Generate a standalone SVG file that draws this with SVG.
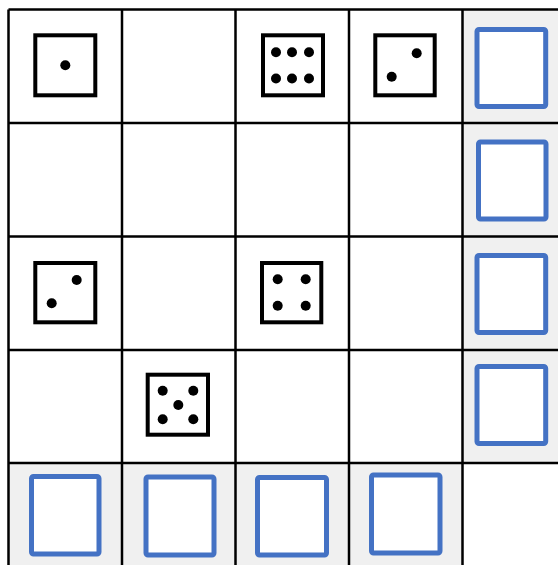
<svg xmlns="http://www.w3.org/2000/svg" width="558" height="565" viewBox="0 0 558 565">
<style>
.shade{fill:#f0f0f0;stroke:none}
.grid{stroke:#000;stroke-width:2.5;fill:none}
.die{fill:#fff;stroke:#000;stroke-width:4}
.pip{fill:#000}
.slot{fill:#fff;stroke:#4472c4;stroke-width:5;}
</style>
<rect width="558" height="565" fill="#fff"/>
<g id="shading">
<rect class="shade" x="462.5" y="9.5" width="96" height="453.5"/>
<rect class="shade" x="8.5" y="463" width="454" height="102"/>
</g>
<g id="grid">
<path class="grid" d="M8.5 9.5H558M8.5 123H558M8.5 236.5H558M8.5 350H558M8.5 463H558M8.5 9.5V565M122 9.5V565M235.5 9.5V565M349 9.5V565M462.5 9.5V565"/>
</g>
<g id="die-r0c0"><rect class="die" x="35.3" y="35.3" width="60" height="60"/><circle class="pip" cx="65.3" cy="65.3" r="5"/></g>
<g id="die-r0c2"><rect class="die" x="263" y="35.3" width="60" height="60"/>
<circle class="pip" cx="276" cy="52.3" r="5"/><circle class="pip" cx="292" cy="52.3" r="5"/><circle class="pip" cx="309" cy="52.3" r="5"/>
<circle class="pip" cx="276" cy="78.5" r="5"/><circle class="pip" cx="292" cy="78.5" r="5"/><circle class="pip" cx="309" cy="78.5" r="5"/></g>
<g id="die-r0c3"><rect class="die" x="375.3" y="35.3" width="59.4" height="60"/><circle class="pip" cx="416.7" cy="53.3" r="5"/><circle class="pip" cx="391.7" cy="76.7" r="5"/></g>
<g id="die-r2c0"><rect class="die" x="35.3" y="263" width="60" height="59.3"/><circle class="pip" cx="76.7" cy="280" r="5"/><circle class="pip" cx="51.7" cy="303.3" r="5"/></g>
<g id="die-r2c2"><rect class="die" x="262" y="263" width="59.3" height="59.3"/>
<circle class="pip" cx="277.7" cy="279.3" r="5"/><circle class="pip" cx="305.7" cy="279.3" r="5"/><circle class="pip" cx="277.7" cy="305.7" r="5"/><circle class="pip" cx="305.7" cy="305.7" r="5"/></g>
<g id="die-r3c1"><rect class="die" x="147.7" y="374.7" width="60.3" height="60"/>
<circle class="pip" cx="162.7" cy="390.7" r="5"/><circle class="pip" cx="193.3" cy="390.7" r="5"/><circle class="pip" cx="178.3" cy="405" r="5"/><circle class="pip" cx="162.7" cy="419.3" r="5"/><circle class="pip" cx="193.3" cy="419.3" r="5"/></g>
<g id="slot-r0"><rect class="slot" x="477" y="29.5" width="68.7" height="77" rx="2"/></g>
<g id="slot-r1"><rect class="slot" x="478.5" y="142" width="67.5" height="77" rx="2"/></g>
<g id="slot-r2"><rect class="slot" x="477" y="255.5" width="68.7" height="77" rx="2"/></g>
<g id="slot-r3"><rect class="slot" x="477" y="366.5" width="68.7" height="77" rx="2"/></g>
<g id="slot-c0"><rect class="slot" x="31.5" y="476.5" width="67.5" height="77.5" rx="2"/></g>
<g id="slot-c1"><rect class="slot" x="146" y="477" width="68" height="78" rx="2"/></g>
<g id="slot-c2"><rect class="slot" x="257.5" y="477.5" width="69" height="77.5" rx="2"/></g>
<g id="slot-c3"><rect class="slot" x="371.5" y="475" width="68.5" height="78" rx="2"/></g>
</svg>
